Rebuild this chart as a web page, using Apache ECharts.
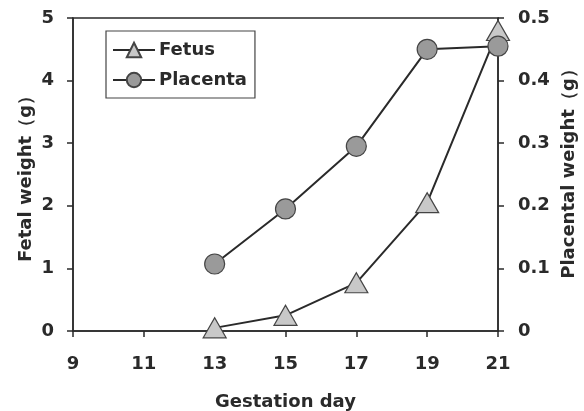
<!DOCTYPE html>
<html>
<head>
<meta charset="utf-8">
<script src="https://cdn.jsdelivr.net/npm/echarts@6/dist/echarts.min.js"></script>
<style>
  html, body { margin: 0; padding: 0; background: #fff; }
  #chart { width: 584px; height: 411px; }
</style>
</head>
<body>
<div id="chart"></div>
<script>
// 数据
var days = [13, 15, 17, 19, 21];
var fetusWeight = [0.05, 0.25, 0.77, 2.05, 4.8];
var placentaWeight = [0.107, 0.195, 0.295, 0.45, 0.455];

var font = 'DejaVu Sans';
var ink = '#2a2a2a';

function pairs(xs, ys) {
  return xs.map(function (x, i) { return [x, ys[i]]; });
}

var option = {
  animation: false,
  backgroundColor: '#fff',
  grid: {
    left: 73, right: 86, top: 18, bottom: 80,
    outerBoundsMode: 'none',
    show: true, borderColor: ink, borderWidth: 1.5
  },
  legend: {
    left: 106, top: 31,
    orient: 'vertical',
    borderColor: '#444', borderWidth: 1.2,
    padding: [10, 8, 9, 6],
    itemGap: 12,
    itemWidth: 42, itemHeight: 18,
    textStyle: { fontFamily: font, fontSize: 18, fontWeight: 'bold', color: ink, padding: [0, 0, 0, -1] },
    data: ['Fetus', 'Placenta']
  },
  xAxis: {
    type: 'value',
    min: 9, max: 21, interval: 2,
    name: 'Gestation day',
    nameLocation: 'middle',
    nameGap: 62,
    nameTextStyle: { fontFamily: font, fontSize: 18, fontWeight: 'bold', color: ink },
    axisLine: { lineStyle: { color: ink, width: 1.5 } },
    axisTick: { length: 6, lineStyle: { color: ink, width: 1.5 } },
    axisLabel: { fontFamily: font, fontSize: 18, fontWeight: 'bold', color: ink, margin: 24 },
    splitLine: { show: false }
  },
  yAxis: [
    {
      type: 'value',
      min: 0, max: 5, interval: 1,
      position: 'left',
      name: 'Fetal weight（g）',
      nameLocation: 'middle',
      nameGap: 38,
      nameMoveOverlap: false,
      nameTextStyle: { fontFamily: font, fontSize: 18, fontWeight: 'bold', color: ink },
      axisLine: { show: true, lineStyle: { color: ink, width: 1.5 } },
      axisTick: { show: true, length: 6, lineStyle: { color: ink, width: 1.5 } },
      axisLabel: { fontFamily: font, fontSize: 18, fontWeight: 'bold', color: ink, margin: 19 },
      splitLine: { show: false }
    },
    {
      type: 'value',
      min: 0, max: 0.5, interval: 0.1,
      position: 'right',
      name: 'Placental weight（g）',
      nameLocation: 'middle',
      nameGap: 56,
      nameRotate: 90,
      nameTextStyle: { fontFamily: font, fontSize: 18, fontWeight: 'bold', color: ink, padding: [0, 0, 0, 10] },
      axisLine: { show: true, lineStyle: { color: ink, width: 1.5 } },
      axisTick: { show: true, length: 6, lineStyle: { color: ink, width: 1.5 } },
      axisLabel: { fontFamily: font, fontSize: 18, fontWeight: 'bold', color: ink, margin: 20 },
      splitLine: { show: false }
    }
  ],
  series: [
    {
      name: 'Fetus',
      type: 'line',
      yAxisIndex: 0,
      data: pairs(days, fetusWeight),
      symbol: 'triangle',
      symbolSize: [23, 20],
      lineStyle: { color: ink, width: 2 },
      itemStyle: { color: '#c8c8c8', borderColor: '#444', borderWidth: 1.2 },
      z: 3
    },
    {
      name: 'Placenta',
      type: 'line',
      yAxisIndex: 1,
      data: pairs(days, placentaWeight),
      symbol: 'circle',
      symbolSize: 20,
      lineStyle: { color: ink, width: 2 },
      itemStyle: { color: '#9a9a9a', borderColor: '#444', borderWidth: 1.2 },
      z: 4
    }
  ]
};

var chart = echarts.init(document.getElementById('chart'));
chart.setOption(option);
</script>
</body>
</html>
